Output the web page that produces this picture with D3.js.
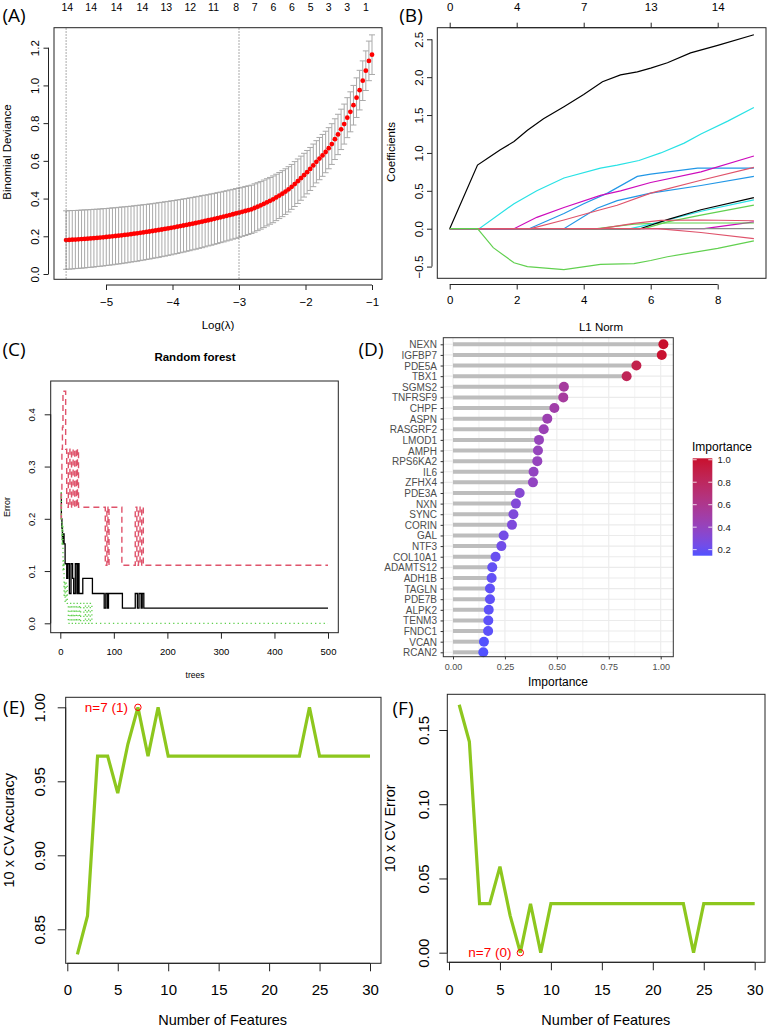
<!DOCTYPE html>
<html><head><meta charset="utf-8">
<script src="https://cdn.jsdelivr.net/npm/d3@7"></script>
<style>html,body{margin:0;padding:0;background:#fff}svg{display:block}</style>
</head><body>
<svg id="c" width="768" height="1029"></svg>
<script>
// ================= DATA =================
// (A) LASSO cross-validation
const lassoLogLambdaRange = [-5.6, -1.0];
const lassoDeviance = [
0.1800,0.1809,0.1818,0.1828,0.1838,0.1850,0.1861,0.1874,0.1887,0.1900,
0.1915,0.1930,0.1945,0.1961,0.1978,0.1996,0.2014,0.2033,0.2052,0.2072,
0.2092,0.2114,0.2136,0.2158,0.2181,0.2205,0.2229,0.2254,0.2280,0.2306,
0.2333,0.2361,0.2389,0.2418,0.2447,0.2477,0.2508,0.2539,0.2571,0.2604,
0.2637,0.2671,0.2705,0.2740,0.2776,0.2812,0.2849,0.2887,0.2925,0.2964,
0.3003,0.3043,0.3084,0.3126,0.3168,0.3211,0.3253,0.3297,0.3342,0.3387,
0.343,0.350,0.357,0.364,0.372,0.380,0.388,0.396,0.406,0.416,
0.426,0.437,0.449,0.462,0.477,0.492,0.508,0.524,0.540,0.557,
0.576,0.595,0.612,0.629,0.647,0.667,0.689,0.715,0.740,0.767,
0.795,0.829,0.860,0.895,0.935,0.975,1.025,1.078,1.130,1.163];
const lassoSE = [
0.155,0.155,0.155,0.154,0.154,0.154,0.154,0.153,0.153,0.153,
0.152,0.152,0.152,0.151,0.151,0.151,0.150,0.150,0.150,0.149,
0.149,0.148,0.148,0.148,0.147,0.147,0.146,0.146,0.145,0.145,
0.145,0.144,0.144,0.143,0.143,0.142,0.142,0.141,0.141,0.140,
0.140,0.139,0.139,0.138,0.138,0.137,0.136,0.136,0.135,0.135,
0.134,0.134,0.133,0.133,0.132,0.132,0.131,0.130,0.130,0.129,
0.128,0.128,0.127,0.126,0.126,0.125,0.124,0.124,0.123,0.122,
0.122,0.121,0.120,0.119,0.119,0.118,0.117,0.116,0.115,0.114,
0.113,0.112,0.112,0.111,0.110,0.109,0.108,0.108,0.107,0.107,
0.106,0.106,0.106,0.105,0.105,0.105,0.105,0.105,0.105,0.105];
const lassoLambdaLines = [-5.6, -3.0];
const lassoTopAt = [-5.59,-5.23,-4.85,-4.46,-4.10,-3.74,-3.39,-3.05,-2.77,-2.49,-2.21,-1.93,-1.66,-1.38,-1.10];
const lassoTopCounts = [14,14,14,14,13,12,11,8,7,6,6,5,3,3,1];
const lassoXTicks = [-5,-4,-3,-2,-1];
const lassoYTicks = [0,0.2,0.4,0.6,0.8,1.0,1.2];

// (B) coefficient paths  [L1 norm, coefficient]
const bMagenta2 = [[0,0],[7.6,0],[9.08,0.09]];
const bGray     = [[0,0],[9.08,0]];
const bGreen3   = [[0,0],[4.4,0],[5.5,0.06],[6.5,0.075],[9.08,0.075]];
const bCyan2    = [[0,0],[5.4,0],[6.2,0.08],[7.5,0.23],[9.08,0.38]];
const bGreen2   = [[0,0],[5.8,0],[6.5,0.09],[7.5,0.18],[9.08,0.31]];
const bBlack2   = [[0,0],[5.68,0],[6.5,0.12],[7.5,0.25],[9.08,0.41]];
const bBlue2    = [[0,0],[3.41,0],[4.4,0.27],[5.0,0.37],[5.6,0.43],[6.0,0.47],[7.5,0.57],[9.08,0.69]];
const bBlue1    = [[0,0],[2.37,0],[3.41,0.20],[4.0,0.33],[4.71,0.47],[5.6,0.69],[6.0,0.72],[7.4,0.80],[9.08,0.80]];
const bMagenta1 = [[0,0],[1.92,0],[2.6,0.15],[3.41,0.28],[4.5,0.44],[5.1,0.50],[6.0,0.61],[7.5,0.75],[9.08,0.96]];
const bCyan1    = [[0,0],[0.88,0],[1.92,0.33],[2.6,0.50],[3.41,0.67],[4.5,0.80],[5.0,0.84],[5.65,0.90],[6.3,1.0],[7.0,1.13],[7.5,1.25],[8.3,1.42],[9.08,1.60]];
const bRed3     = [[0,0],[6.2,0],[7.5,-0.05],[9.08,-0.13]];
const bRed2     = [[0,0],[4.5,0],[5.5,0.07],[6.3,0.11],[7.5,0.115],[9.08,0.105]];
const bRed1     = [[0,0],[2.42,0],[3.41,0.115],[4.5,0.25],[5.0,0.31],[6.0,0.47],[7.5,0.64],[9.08,0.81]];
const bBlack1   = [[0,0],[0.83,0.84],[1.2,0.95],[1.5,1.04],[1.92,1.15],[2.32,1.30],[2.8,1.45],[3.41,1.61],[4.0,1.77],[4.56,1.94],[5.1,2.03],[5.6,2.07],[6.0,2.12],[6.5,2.19],[7.19,2.32],[8.0,2.42],[9.08,2.56]];
const bGreenDown= [[0,0],[0.83,0],[1.3,-0.25],[1.92,-0.45],[2.32,-0.50],[3.41,-0.54],[4.5,-0.47],[5.5,-0.46],[6.0,-0.42],[6.5,-0.37],[8.0,-0.26],[9.08,-0.16]];
const coefXTicks = [0,2,4,6,8];
const coefTopLabels = [0,4,7,13,14];
const coefYTicks = [-0.5,0,0.5,1.0,1.5,2.0,2.5];

// (C) random forest error  [trees, error]
const rfOOB = [[1,0.250],[2,0.200],[3,0.182],[4,0.162],[5,0.152],[6,0.171],[7,0.152],[9,0.114],[12,0.086],[14,0.114],[17,0.057],[20,0.114],[23,0.086],[25,0.057],[28,0.114],[31,0.057],[33,0.114],[35,0.057],[42,0.086],[60,0.057],[82,0.029],[85,0.057],[88,0.029],[90,0.057],[116,0.029],[140,0.057],[144,0.029],[147,0.057],[151,0.029],[153,0.057],[156,0.029],[500,0.029]];
const rfClass1 = [[1,0.200],[2,0.250],[3,0.333],[4,0.375],[5,0.444],[10,0.333],[12,0.222],[15,0.333],[18,0.222],[21,0.333],[24,0.222],[27,0.333],[30,0.222],[32,0.333],[34,0.222],[84,0.111],[87,0.222],[89,0.111],[91,0.222],[115,0.111],[140,0.222],[143,0.111],[146,0.222],[149,0.111],[152,0.222],[155,0.111],[500,0.111]];
const rfClass2 = [[1,0.250],[2,0.200],[3,0.150],[4,0.190],[5,0.100],[6,0.120],[7,0.050],[8,0.080],[9,0.040],[11,0.077],[13,0.038],[15,0],[18,0.038],[21,0],[24,0.038],[27,0],[30,0.038],[33,0],[36,0.038],[38,0],[44,0.038],[47,0],[50,0.038],[53,0],[56,0.038],[59,0],[500,0]];
const rfXTicks = [0,100,200,300,400,500];
const rfYTicks = [0,0.1,0.2,0.3,0.4];

// (D) importance
const genes = ["NEXN","IGFBP7","PDE5A","TBX1","SGMS2","TNFRSF9","CHPF","ASPN","RASGRF2","LMOD1","AMPH","RPS6KA2","IL6","ZFHX4","PDE3A","NXN","SYNC","CORIN","GAL","NTF3","COL10A1","ADAMTS12","ADH1B","TAGLN","PDE7B","ALPK2","TENM3","FNDC1","VCAN","RCAN2"];
const importance = [1.013,1.005,0.883,0.836,0.534,0.531,0.488,0.454,0.437,0.414,0.409,0.406,0.388,0.385,0.321,0.303,0.291,0.284,0.244,0.233,0.205,0.189,0.186,0.178,0.178,0.172,0.170,0.169,0.149,0.146];
const impXTicks = [0,0.25,0.5,0.75,1.0];
const impLegendTicks = [0.2,0.4,0.6,0.8,1.0];

// (E)/(F) SVM-RFE
const nFeatures = [1,2,3,4,5,6,7,8,9,10,11,12,13,14,15,16,17,18,19,20,21,22,23,24,25,26,27,28,29,30];
const cvAccuracy = [0.833,0.859,0.967,0.967,0.942,0.975,1.000,0.967,1.000,0.967,0.967,0.967,0.967,0.967,0.967,0.967,0.967,0.967,0.967,0.967,0.967,0.967,0.967,1.000,0.967,0.967,0.967,0.967,0.967,0.967];
const cvError = [0.167,0.142,0.033,0.033,0.058,0.025,0.000,0.033,0.000,0.033,0.033,0.033,0.033,0.033,0.033,0.033,0.033,0.033,0.033,0.033,0.033,0.033,0.033,0.000,0.033,0.033,0.033,0.033,0.033,0.033];
const bestN = 7;
const featXTicks = [0,5,10,15,20,25,30];
const accYTicks = [0.85,0.90,0.95,1.00];
const errYTicks = [0,0.05,0.10,0.15];

// ================= DRAWING =================
const svg = d3.select('#c');
const RF = "'Liberation Sans', Arimo, Arial, sans-serif";
const PF = "'Open Sans', 'Noto Sans', sans-serif";

function txt(x, y, s, o = {}) {
  const t = svg.append('text').attr('x', x).attr('y', y).text(s)
    .attr('font-family', o.ff || RF).attr('font-size', o.fs || 11)
    .attr('fill', o.fill || '#000').attr('text-anchor', o.anchor || 'middle')
    .attr('dominant-baseline', 'central').attr('font-weight', o.fw || 'normal');
  if (o.rot) t.attr('transform', `rotate(-90,${x},${y})`);
  return t;
}
function box(x0, y0, x1, y1, col) {
  svg.append('rect').attr('x', x0).attr('y', y0).attr('width', x1 - x0).attr('height', y1 - y0)
    .attr('fill', 'none').attr('stroke', col || '#222').attr('stroke-width', 1);
}
function axisH(scale, ticks, o) {
  const gen = (o.top ? d3.axisTop : d3.axisBottom)(scale).tickValues(ticks).tickSize(o.len).tickSizeOuter(0)
    .tickFormat(o.fmt || (d => d));
  const g = svg.append('g').attr('transform', `translate(0,${o.y})`).call(gen);
  g.select('.domain').remove();
  if (o.line) g.append('line').attr('x1', scale(ticks[0])).attr('x2', scale(ticks[ticks.length - 1]))
    .attr('stroke', o.color || '#222');
  g.selectAll('.tick line').attr('stroke', o.color || '#222');
  g.selectAll('.tick text').attr('y', o.labelY - o.y).attr('dy', null).attr('dominant-baseline', 'central')
    .attr('font-size', o.fs).attr('font-family', o.ff || RF).attr('fill', o.tfill || '#000');
  return g;
}
function axisV(scale, ticks, o) {
  const gen = d3.axisLeft(scale).tickValues(ticks).tickSize(o.len).tickSizeOuter(0).tickFormat(o.fmt || (d => d));
  const g = svg.append('g').attr('transform', `translate(${o.x},0)`).call(gen);
  g.select('.domain').remove();
  if (o.line) g.append('line').attr('y1', scale(ticks[0])).attr('y2', scale(ticks[ticks.length - 1]))
    .attr('stroke', o.color || '#222');
  g.selectAll('.tick line').attr('stroke', o.color || '#222');
  const dx = o.labelX - o.x;
  g.selectAll('.tick text').each(function () {
    const t = d3.select(this);
    t.attr('dy', null).attr('dominant-baseline', 'central').attr('font-size', o.fs)
      .attr('font-family', o.ff || RF).attr('fill', o.tfill || '#000');
    if (o.rot) t.attr('x', 0).attr('y', 0).attr('text-anchor', 'middle').attr('transform', `translate(${dx},0) rotate(-90)`);
    else t.attr('x', dx).attr('text-anchor', 'end');
  });
  return g;
}

// ---------- (A) ----------
{
  const x = d3.scaleLinear().domain([-5, -1]).range([106, 372]);
  const y = d3.scaleLinear().domain([0, 1.2]).range([274, 47.7]);
  const n = lassoDeviance.length;
  const step = (lassoLogLambdaRange[1] - lassoLogLambdaRange[0]) / (n - 1);
  const pts = lassoDeviance.map((d, i) => ({ l: lassoLogLambdaRange[0] + i * step, m: d, se: lassoSE[i] }));
  const g = svg.append('g');
  const eb = g.append('g').attr('stroke', '#A9A9A9').attr('stroke-width', 1);
  pts.forEach(p => {
    eb.append('line').attr('x1', x(p.l)).attr('x2', x(p.l)).attr('y1', y(p.m - p.se)).attr('y2', y(p.m + p.se));
    eb.append('line').attr('x1', x(p.l) - 3).attr('x2', x(p.l) + 3).attr('y1', y(p.m + p.se)).attr('y2', y(p.m + p.se));
    eb.append('line').attr('x1', x(p.l) - 3).attr('x2', x(p.l) + 3).attr('y1', y(p.m - p.se)).attr('y2', y(p.m - p.se));
  });
  g.selectAll('circle').data(pts).join('circle').attr('cx', p => x(p.l)).attr('cy', p => y(p.m))
    .attr('r', 2.4).attr('fill', '#FF0000');
  lassoLambdaLines.forEach(v => g.append('line').attr('x1', x(v)).attr('x2', x(v)).attr('y1', 28.5).attr('y2', 278.5)
    .attr('stroke', '#555').attr('stroke-dasharray', '1,2'));
  box(54, 27.7, 382, 279.3);
  axisH(x, lassoXTicks, { y: 285, len: 5, labelY: 301.5, fs: 11.5, line: true, fmt: d3.format('d') });
  axisV(y, lassoYTicks, { x: 48.5, len: 5, labelX: 35, fs: 11.5, rot: true, line: true, fmt: d3.format('.1f') });
  axisH(x, lassoTopAt, { top: true, y: 7, len: 0, labelY: 7, fs: 10.5, fmt: (d, i) => lassoTopCounts[i] });
  txt(7, 152, 'Binomial Deviance', { fs: 11.5, rot: true });
  txt(218, 325, 'Log(λ)', { fs: 11.5 });
  txt(14, 15, '(A)', { ff: PF, fs: 19 });
}

// ---------- (B) ----------
{
  const x = d3.scaleLinear().domain([0, 8]).range([449.7, 717.7]);
  const y = d3.scaleLinear().domain([0, 2.5]).range([228.7, 39.3]);
  const paths = [bMagenta2, bGray, bGreen3, bCyan2, bGreen2, bBlack2, bBlue2, bBlue1, bMagenta1, bCyan1, bRed3, bRed2, bRed1, bBlack1, bGreenDown];
  const cols = ['#CD0BBC', '#8A8A8A', '#61D04F', '#28E2E5', '#61D04F', '#000000', '#2297E6', '#2297E6', '#CD0BBC', '#28E2E5', '#DF536B', '#DF536B', '#DF536B', '#000000', '#61D04F'];
  const line = d3.line().x(d => x(d[0])).y(d => y(d[1]));
  svg.append('g').selectAll('path').data(paths).join('path').attr('d', line)
    .attr('fill', 'none').attr('stroke', (d, i) => cols[i]).attr('stroke-width', 1.2);
  box(437.3, 27.7, 766, 278.3);
  axisH(x, coefXTicks, { y: 284.5, len: 5, labelY: 300, fs: 11.5, line: true });
  axisV(y, coefYTicks, { x: 432, len: 5, labelX: 419, fs: 11.5, rot: true, line: true, fmt: d3.format('.1f') });
  axisH(x, coefXTicks, { top: true, y: 27.7, len: 5, labelY: 6.5, fs: 11.5, line: true, fmt: (d, i) => coefTopLabels[i] });
  txt(391, 152, 'Coefficients', { fs: 11.5, rot: true });
  txt(601, 327, 'L1 Norm', { fs: 11.5 });
  txt(411, 15, '(B)', { ff: PF, fs: 19 });
}

// ---------- (C) ----------
{
  const x = d3.scaleLinear().domain([0, 500]).range([60.3, 328]);
  const y = d3.scaleLinear().domain([0, 0.4]).range([623.3, 414.3]);
  const line = d3.line().x(d => x(d[0])).y(d => y(d[1])).curve(d3.curveStepAfter);
  const g = svg.append('g').attr('fill', 'none');
  g.append('path').attr('d', line(rfOOB)).attr('stroke', '#000').attr('stroke-width', 1.3);
  g.append('path').attr('d', line(rfClass1)).attr('stroke', '#DF536B').attr('stroke-width', 1.4).attr('stroke-dasharray', '6,4');
  g.append('path').attr('d', line(rfClass2)).attr('stroke', '#61D04F').attr('stroke-width', 1.3).attr('stroke-dasharray', '1.3,3');
  box(50.7, 381, 338.3, 632.7);
  axisH(x, rfXTicks, { y: 632.7, len: 6, labelY: 651.7, fs: 9.5, line: true });
  axisV(y, rfYTicks, { x: 50.7, len: 6, labelX: 31.7, fs: 9.5, rot: true, line: true, fmt: d3.format('.1f') });
  txt(195, 357, 'Random forest', { fs: 11.5, fw: 'bold' });
  txt(7, 507, 'Error', { fs: 9, rot: true });
  txt(195, 675, 'trees', { fs: 8.5 });
  txt(14, 349, '(C)', { ff: PF, fs: 19 });
  txt(371, 349, '(D)', { ff: PF, fs: 19 });
}

// ---------- (D) ----------
{
  const x = d3.scaleLinear().domain([0, 1]).range([453, 660.7]);
  const y = d3.scalePoint().domain(genes).range([344.3, 652.3]);
  const ext = d3.extent(importance);
  const color = d3.scaleLinear().domain(ext).range(['#5252FF', '#C8102E']).interpolate(d3.interpolateLab);
  const px0 = 443.3, px1 = 673.3, py0 = 337.7, py1 = 656.7;
  svg.append('rect').attr('x', px0).attr('y', py0).attr('width', px1 - px0).attr('height', py1 - py0).attr('fill', '#fff');
  const gg = svg.append('g').attr('stroke', '#EBEBEB');
  [0.125, 0.375, 0.625, 0.875].forEach(v => gg.append('line').attr('x1', x(v)).attr('x2', x(v)).attr('y1', py0).attr('y2', py1).attr('stroke-width', 0.6));
  impXTicks.forEach(v => gg.append('line').attr('x1', x(v)).attr('x2', x(v)).attr('y1', py0).attr('y2', py1).attr('stroke-width', 1.1));
  genes.forEach(gn => gg.append('line').attr('x1', px0).attr('x2', px1).attr('y1', y(gn)).attr('y2', y(gn)).attr('stroke-width', 1.1));
  const rows = genes.map((gn, i) => ({ g: gn, v: importance[i] }));
  svg.append('g').selectAll('line').data(rows).join('line')
    .attr('x1', x(0)).attr('x2', d => x(d.v)).attr('y1', d => y(d.g)).attr('y2', d => y(d.g))
    .attr('stroke', '#BDBDBD').attr('stroke-width', 4);
  svg.append('g').selectAll('circle').data(rows).join('circle')
    .attr('cx', d => x(d.v)).attr('cy', d => y(d.g)).attr('r', 5).attr('fill', d => color(d.v));
  box(px0, py0, px1, py1, '#333');
  axisH(x, impXTicks, { y: py1, len: 2.7, labelY: 667.3, fs: 9, tfill: '#4D4D4D', color: '#333', fmt: d3.format('.2f') });
  axisV(y, genes, { x: px0, len: 2.7, labelX: 437, fs: 10, tfill: '#4D4D4D', color: '#333' });
  txt(558, 681.7, 'Importance', { fs: 12 });
  // legend
  const lb = { x: 692.7, w: 19.6, y0: 458.3, y1: 555.7 };
  const ly = d3.scaleLinear().domain(ext).range([lb.y1, lb.y0]);
  const defs = svg.append('defs');
  const grad = defs.append('linearGradient').attr('id', 'impgrad').attr('x1', 0).attr('x2', 0).attr('y1', 1).attr('y2', 0);
  d3.range(0, 1.0001, 0.1).forEach(t => grad.append('stop').attr('offset', t).attr('stop-color', color(ext[0] + t * (ext[1] - ext[0]))));
  svg.append('rect').attr('x', lb.x).attr('y', lb.y0).attr('width', lb.w).attr('height', lb.y1 - lb.y0).attr('fill', 'url(#impgrad)');
  impLegendTicks.forEach(v => {
    svg.append('line').attr('x1', lb.x).attr('x2', lb.x + 4).attr('y1', ly(v)).attr('y2', ly(v)).attr('stroke', '#fff').attr('stroke-width', 0.8);
    svg.append('line').attr('x1', lb.x + lb.w - 4).attr('x2', lb.x + lb.w).attr('y1', ly(v)).attr('y2', ly(v)).attr('stroke', '#fff').attr('stroke-width', 0.8);
    txt(717.5, ly(v), d3.format('.1f')(v), { fs: 9.5, anchor: 'start', fill: '#1a1a1a' });
  });
  txt(692, 447.3, 'Importance', { fs: 12, anchor: 'start' });
}

// ---------- (E) & (F) ----------
function rfePanel(vals, yDom, yRange, yTicks, bx, xr, ylab, labelX, ylabX, lbl, lblPos, note, noteX) {
  const x = d3.scaleLinear().domain([0, 30]).range(xr);
  const y = d3.scaleLinear().domain(yDom).range(yRange);
  const line = d3.line().x((d, i) => x(nFeatures[i])).y(d => y(d));
  svg.append('path').attr('d', line(vals)).attr('fill', 'none').attr('stroke', '#8DC71E').attr('stroke-width', 3.2)
    .attr('stroke-linejoin', 'miter');
  const bi = nFeatures.indexOf(bestN);
  svg.append('circle').attr('cx', x(bestN)).attr('cy', y(vals[bi])).attr('r', 3.2).attr('fill', 'none').attr('stroke', '#FF0000').attr('stroke-width', 1);
  txt(noteX, y(vals[bi]), note, { fs: 13.5, anchor: 'end', fill: '#FF0000' });
  box(bx[0], bx[1], bx[2], bx[3]);
  axisH(x, featXTicks, { y: bx[3], len: 8, labelY: 990, fs: 15, line: true });
  axisV(y, yTicks, { x: bx[0], len: 8, labelX: labelX, fs: 15, rot: true, line: true, fmt: d3.format('.2f') });
  txt((xr[0] + xr[1]) / 2 + 4, 1019.5, 'Number of Features', { fs: 14.5 });
  txt(ylabX, (bx[1] + bx[3]) / 2, ylab, { fs: 14.5, rot: true });
  txt(lblPos[0], lblPos[1], lbl, { ff: PF, fs: 19 });
}
rfePanel(cvAccuracy, [0.85, 1.00], [929.3, 707.3], accYTicks, [65.7, 697.3, 381, 963.3], [67.3, 370],
  '10 x CV Accuracy', 40, 9, '(E)', [14, 707], 'n=7 (1)', 128);
rfePanel(cvError, [0, 0.15], [952.7, 730], errYTicks, [447.3, 694.3, 765, 962.3], [449, 754.7],
  '10 x CV Error', 423.3, 390, '(F)', [403, 708], 'n=7 (0)', 511.5);
</script>
</body></html>
